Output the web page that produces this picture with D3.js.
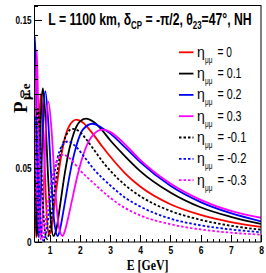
<!DOCTYPE html>
<html>
<head>
<meta charset="utf-8">
<title>P mu e vs E</title>
<script src="https://cdn.jsdelivr.net/npm/d3@7"></script>
<style>
  body { margin: 0; background: #fff; }
  .axis path { display: none; }
  .axis line { stroke: #000; shape-rendering: crispEdges; }
  .axis text { font: bold 10px "Liberation Sans", Arial, sans-serif; fill: #000; }
  .curve { fill: none; stroke-width: 1.8; }
</style>
</head>
<body>
<svg id="chart" width="266" height="273"></svg>
<script>
// legend labels for eta_mumu, in drawing order
var etaLabels = ["0", "0.1", "0.2", "0.3", "-0.1", "-0.2", "-0.3"];
var colors = ["#ff0000", "#000000", "#0000ff", "#ff00ff", "#000000", "#0000ff", "#ff00ff"];
var dashed = [false, false, false, false, true, true, true];

// [E in GeV, P(mu->e)]
var eta0 = [[0.5,0.045],[0.53,0.015],[0.56,0.003],[0.6,0.025],[0.65,0.075],[0.7,0.1],[0.76,0.09],[0.83,0.055],[0.9,0.02],[0.97,0.005],[1.05,0.008],[1.1,0.015],[1.2,0.0317],[1.3,0.0473],[1.4,0.06],[1.5,0.0697],[1.65,0.0785],[1.89,0.0828],[2.1,0.0808],[2.4,0.074],[2.75,0.0644],[3,0.058],[3.5,0.0465],[4,0.0375],[5,0.0255],[6,0.0183],[7,0.0135],[8,0.0102]];
var eta01 = [[0.5,0.1],[0.52,0.062],[0.55,0.02],[0.583,0.004],[0.63,0.021],[0.68,0.064],[0.72,0.09],[0.777,0.104],[0.85,0.088],[0.95,0.044],[1.05,0.012],[1.13,0.004],[1.2,0.007],[1.25,0.0113],[1.35,0.0252],[1.5,0.0461],[1.65,0.0626],[1.8,0.0736],[2,0.0814],[2.2,0.0834],[2.45,0.0813],[2.75,0.0754],[3,0.069],[3.5,0.058],[4,0.048],[5,0.0335],[6,0.0235],[7,0.017],[8,0.0122]];
var eta02 = [[0.5,0.135],[0.514,0.139],[0.54,0.12],[0.57,0.075],[0.6,0.028],[0.643,0.003],[0.7,0.025],[0.76,0.07],[0.857,0.102],[0.95,0.083],[1.05,0.045],[1.15,0.0145],[1.27,0.004],[1.35,0.009],[1.45,0.02],[1.6,0.038],[1.75,0.054],[1.9,0.066],[2.1,0.076],[2.42,0.08],[2.75,0.077],[3,0.0735],[3.5,0.064],[4,0.054],[5,0.038],[6,0.027],[7,0.0195],[8,0.014]];
var eta03 = [[0.5,0.018],[0.53,0.075],[0.575,0.13],[0.62,0.093],[0.67,0.028],[0.72,0.003],[0.78,0.021],[0.85,0.064],[0.96,0.095],[1.06,0.077],[1.17,0.041],[1.3,0.011],[1.43,0.004],[1.5,0.007],[1.6,0.015],[1.75,0.029],[1.9,0.043],[2.1,0.058],[2.35,0.07],[2.75,0.076],[3,0.0745],[3.5,0.066],[4,0.0555],[5,0.0395],[6,0.0285],[7,0.021],[8,0.0164]];
var etaM01 = [[0.5,0.022],[0.55,0.066],[0.613,0.09],[0.68,0.072],[0.76,0.034],[0.84,0.008],[0.92,0.002],[1,0.008],[1.1,0.024],[1.2,0.04],[1.35,0.059],[1.5,0.07],[1.75,0.0765],[2,0.0745],[2.25,0.0685],[2.5,0.0615],[2.75,0.0545],[3,0.0485],[3.5,0.0385],[4,0.031],[5,0.021],[6,0.015],[7,0.011],[8,0.0083]];
var etaM02 = [[0.5,0.077],[0.533,0.085],[0.58,0.073],[0.64,0.042],[0.7,0.0157],[0.75,0.0035],[0.8,0.001],[0.9,0.0081],[1,0.0237],[1.1,0.039],[1.25,0.0558],[1.4,0.0647],[1.6,0.068],[1.85,0.065],[2.1,0.0589],[2.5,0.0484],[3,0.0385],[3.5,0.03],[4,0.024],[5,0.0158],[6,0.0113],[7,0.0085],[8,0.0066]];
var etaM03 = [[0.5,0.073],[0.55,0.053],[0.6,0.028],[0.65,0.0096],[0.73,0.0015],[0.8,0.0049],[0.9,0.0193],[1,0.034],[1.1,0.0453],[1.25,0.0553],[1.45,0.059],[1.7,0.056],[2,0.0487],[2.5,0.039],[3,0.03],[3.5,0.023],[4,0.018],[5,0.012],[6,0.0085],[7,0.0063],[8,0.005]];

var series = [eta0, eta01, eta02, eta03, etaM01, etaM02, etaM03];

var xMajor = [1, 2, 3, 4, 5, 6, 7, 8];
var yMajor = [0, 0.05, 0.1, 0.15];

var frame = {left: 34.5, right: 261, top: 5, bottom: 242};

var x = d3.scaleLinear().domain([0.5, 8]).range([frame.left, frame.right]);
var y = d3.scaleLinear().domain([0, 0.16]).range([frame.bottom, frame.top + 0.5]);

var svg = d3.select("#chart");
svg.append("rect").attr("width", 266).attr("height", 273).attr("fill", "#fff");

svg.append("defs").append("clipPath").attr("id", "plotclip")
  .append("rect")
    .attr("x", frame.left).attr("y", frame.top)
    .attr("width", frame.right - frame.left).attr("height", frame.bottom - frame.top);

// squeeze a text to a given width (ROOT fonts look narrow)
function squeezeText(parent, px, py, width, build) {
  var g = parent.append("g").attr("transform", "translate(" + px + "," + py + ")");
  var t = g.append("text").attr("fill", "#000");
  build(t);
  var w = t.node().getBBox().width;
  t.attr("transform", "scale(" + (width / w) + ",1)");
  return g;
}

// curves
var line = d3.line()
  .x(function(d){ return x(d[0]); })
  .y(function(d){ return y(d[1]); })
  .curve(d3.curveMonotoneX);

var plot = svg.append("g").attr("clip-path", "url(#plotclip)");
plot.selectAll(".curve")
  .data(series)
  .enter().append("path")
    .attr("class", "curve")
    .attr("d", line)
    .attr("stroke", function(d, i){ return colors[i]; })
    .attr("stroke-dasharray", function(d, i){ return dashed[i] ? "2.5,2" : null; });

// axes: ticks point inward
var xMinor = d3.range(0.6, 8.01, 0.2).filter(function(v){ return Math.abs(v - Math.round(v)) > 0.01; });
svg.append("g").attr("class", "axis")
  .attr("transform", "translate(0," + frame.bottom + ")")
  .call(d3.axisBottom(x).tickValues(xMinor).tickSize(-3.5).tickFormat(""));
var xAxisG = svg.append("g").attr("class", "axis")
  .attr("transform", "translate(0," + frame.bottom + ")")
  .call(d3.axisBottom(x).tickValues(xMajor).tickSize(-7).tickPadding(5).tickFormat(d3.format("d")));
xAxisG.selectAll("text").attr("transform", "scale(0.85,1)");

var yMinor = d3.range(0.01, 0.1601, 0.01).filter(function(v){ return Math.abs(v * 20 - Math.round(v * 20)) > 0.01; });
svg.append("g").attr("class", "axis")
  .attr("transform", "translate(" + frame.left + ",0)")
  .call(d3.axisLeft(y).tickValues(yMinor).tickSize(-3.5).tickFormat(""));
var yAxisG = svg.append("g").attr("class", "axis")
  .attr("transform", "translate(" + frame.left + ",0)")
  .call(d3.axisLeft(y).tickValues(yMajor).tickSize(-7).tickPadding(3)
    .tickFormat(function(d){ return d === 0 ? "0" : String(d); }));
yAxisG.selectAll("text").attr("transform", "scale(0.82,1)").attr("x", -3 / 0.82);

// frame
svg.append("rect")
  .attr("x", frame.left).attr("y", frame.top + 0.5)
  .attr("width", frame.right - frame.left).attr("height", frame.bottom - frame.top - 0.5)
  .attr("fill", "none").attr("stroke", "#000").attr("stroke-width", 1);

// title
squeezeText(svg, 48.3, 25, 203.5, function(t){
  t.attr("font-family", "'Liberation Sans', Arial, sans-serif").attr("font-weight", "bold").attr("font-size", 17);
  t.append("tspan").text("L = 1100 km, \u03b4");
  t.append("tspan").attr("font-size", 11).attr("dy", 4).text("CP");
  t.append("tspan").attr("dy", -4).text(" = -\u03c0/2, \u03b8");
  t.append("tspan").attr("font-size", 11).attr("dy", 4).text("23");
  t.append("tspan").attr("dy", -4).text("=47\u00b0, NH");
});

// legend
var legend = svg.append("g");
etaLabels.forEach(function(lab, i){
  var ry = 52.3 + i * 21.3;
  legend.append("line")
    .attr("x1", 179).attr("x2", 193.5).attr("y1", ry).attr("y2", ry)
    .attr("stroke", colors[i]).attr("stroke-width", 1.8)
    .attr("stroke-dasharray", dashed[i] ? "2.5,2" : null);
  legend.append("text")
    .attr("x", 197).attr("y", ry + 4.5)
    .attr("font-family", "'Liberation Sans', Arial, sans-serif").attr("font-size", 14)
    .attr("fill", "#000")
    .text("\u03b7");
  squeezeText(legend, 205, ry + 10.5, 7.5, function(t){
    t.attr("font-family", "'Liberation Sans', Arial, sans-serif").attr("font-size", 9).text("\u03bc\u03bc");
  });
  squeezeText(legend, 217.5, ry + 4.5, (lab.length + 2) * 4.85, function(t){
    t.attr("font-family", "'Liberation Sans', Arial, sans-serif").attr("font-size", 14).text("= " + lab);
  });
});

// axis titles
squeezeText(svg, 126.7, 269.5, 41.7, function(t){
  t.attr("font-family", "'Liberation Serif', 'Times New Roman', serif").attr("font-weight", "bold").attr("font-size", 15)
    .text("E [GeV]");
});
var ylab = svg.append("text")
  .attr("transform", "translate(27,113) rotate(-90)")
  .attr("font-family", "'Liberation Serif', 'Times New Roman', serif").attr("font-weight", "bold")
  .attr("font-size", 19).attr("fill", "#000");
ylab.append("tspan").text("P");
ylab.append("tspan").attr("font-size", 13).attr("dy", 2.5).attr("dx", 1.5).text("\u03bc e");
</script>
</body>
</html>
